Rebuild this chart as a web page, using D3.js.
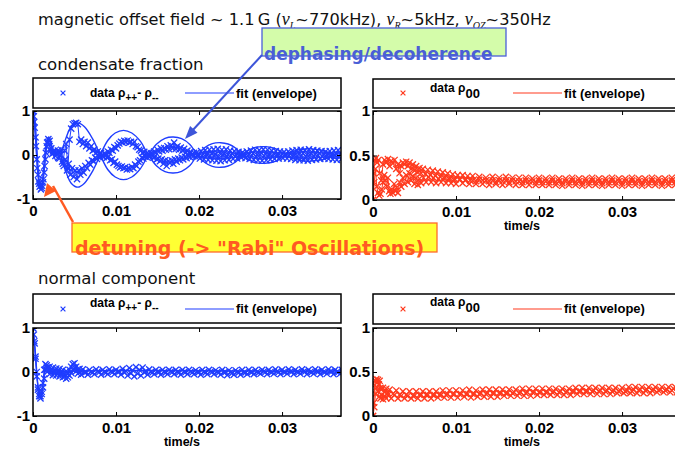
<!DOCTYPE html>
<html>
<head>
<meta charset="utf-8">
<script src="https://cdn.jsdelivr.net/npm/d3@7"></script>
<style>
  body { margin: 0; background: #fff; }
  svg { display: block; }
</style>
</head>
<body>
<svg id="chart" width="675" height="454"></svg>
<script>
// ---- axis ticks (time in ms, labelled in seconds) ----
const timeTicks = [0, 10, 20, 30];
const timeTickLabels = ["0", "0.01", "0.02", "0.03"];
const diffTicks = [-1, 0, 1];
const diffTickLabels = ["-1", "0", "1"];
const popTicks = [0, 0.5, 1];
const popTickLabels = ["0", "0.5", "1"];

// ---- condensate fraction: rho++ - rho-- (two interleaved runs), [t ms, value] ----
const condDiffA = [[0,1],[0.1,0.88],[0.2,0.62],[0.35,0.2],[0.5,-0.3],[0.65,-0.6],[0.8,-0.72],[0.95,-0.78],[1.1,-0.7],[1.25,-0.55],[1.4,-0.25],[1.55,0.05],[1.7,0.28],[1.85,0.36],[2.0,0.32],[2.2,0.15],[2.4,0.08],[2.6,0.1],[2.8,0.05],[3.0,0.1],[3.2,0.06],[3.4,0.12],[3.6,-0.2],[3.8,0.1],[4.0,0.25],[4.2,-0.3],[4.4,0.35],[4.6,0.6],[4.8,0.7],[5.0,0.72],[5.2,0.73],[5.4,0.7],[5.6,0.3],[5.8,0.35],[6.0,0.25],[6.2,0.3],[6.4,0.2],[6.6,0.28],[6.8,0.15],[7.0,0.2],[7.2,0.1],[7.4,0.12],[7.6,0.05],[7.8,0.08],[8.0,0.02],[8.2,0.05],[8.4,-0.02],[8.6,0.04],[8.8,0.0],[9.0,0.08],[9.2,0.05],[9.4,0.12],[9.6,0.1],[9.8,0.18],[10.0,0.15],[10.2,0.22],[10.4,0.26],[10.6,0.3],[10.8,0.28],[11.0,0.32],[11.2,0.3],[11.4,0.33],[11.6,0.28],[11.8,0.3],[12.0,0.25],[12.2,0.3],[12.4,0.2],[12.6,0.18],[12.8,0.12],[13.0,0.1],[13.2,0.05],[13.4,0.07],[13.6,0.02],[13.8,0.05],[14.0,-0.02],[14.2,0.04],[14.4,0.0],[14.6,0.08],[14.8,0.05],[15.0,0.12],[15.2,0.08],[15.4,0.15],[15.6,0.1],[15.8,0.16],[16.0,0.12],[16.2,0.2],[16.4,0.13],[16.6,0.22],[16.8,0.15],[17.0,0.28],[17.2,0.14],[17.4,0.2],[17.6,0.12],[17.8,0.17],[18.0,0.1],[18.2,0.14],[18.4,0.06],[18.6,0.1],[18.8,0.04],[19.0,0.07],[19.2,0.02],[19.4,0.05],[19.75,0.06],[20.0,-0.01],[20.25,0.09],[20.5,0.02],[20.75,0.11],[21.0,0.0],[21.25,0.12],[21.5,0.03],[21.75,0.13],[22.0,0.01],[22.25,0.14],[22.5,0.04],[22.75,0.12],[23.0,0.02],[23.25,0.13],[23.5,0.0],[23.75,0.1],[24.0,0.03],[24.25,0.09],[24.5,-0.01],[24.75,0.07],[25.0,0.02],[25.25,0.06],[25.5,-0.02],[25.75,0.08],[26.0,0.01],[26.25,0.1],[26.5,0.03],[26.75,0.12],[27.0,0.0],[27.25,0.11],[27.5,0.04],[27.75,0.13],[28.0,0.02],[28.25,0.12],[28.5,0.0],[28.75,0.1],[29.0,0.03],[29.25,0.09],[29.5,-0.01],[29.75,0.08],[30.0,0.02],[30.25,0.07],[30.5,0.0],[30.75,0.08],[31.0,0.03],[31.25,0.1],[31.5,-0.01],[31.75,0.11],[32.0,0.02],[32.25,0.12],[32.5,0.04],[32.75,0.11],[33.0,0.0],[33.25,0.13],[33.5,0.03],[33.75,0.11],[34.0,0.01],[34.25,0.1],[34.5,0.04],[34.75,0.09],[35.0,0.0],[35.25,0.08],[35.5,0.02],[35.75,0.09],[36.0,-0.01],[36.25,0.1],[36.5,0.03],[36.75,0.11],[37.0,0.02]];
const condDiffB = [[0,1],[0.15,0.75],[0.3,0.4],[0.45,-0.1],[0.6,-0.45],[0.75,-0.65],[0.9,-0.7],[1.05,-0.75],[1.2,-0.62],[1.35,-0.4],[1.5,-0.1],[1.65,0.2],[1.8,0.3],[1.95,0.25],[2.1,0.1],[2.3,0.02],[2.5,0.05],[2.7,-0.02],[2.9,0.04],[3.1,-0.05],[3.3,0],[3.5,-0.15],[3.7,-0.25],[3.9,-0.1],[4.1,-0.35],[4.3,-0.2],[4.5,-0.45],[4.7,-0.3],[4.9,-0.5],[5.1,-0.35],[5.3,-0.55],[5.5,-0.35],[5.7,-0.45],[5.9,-0.3],[6.1,-0.4],[6.3,-0.25],[6.5,-0.3],[6.7,-0.18],[6.9,-0.22],[7.1,-0.12],[7.3,-0.14],[7.5,-0.06],[7.7,-0.09],[7.9,-0.03],[8.1,-0.06],[8.3,0],[8.5,-0.05],[8.7,0.02],[8.9,-0.06],[9.1,-0.04],[9.3,-0.12],[9.5,-0.1],[9.7,-0.18],[9.9,-0.15],[10.1,-0.22],[10.3,-0.25],[10.5,-0.28],[10.7,-0.26],[10.9,-0.3],[11.1,-0.28],[11.3,-0.33],[11.5,-0.3],[11.7,-0.32],[11.9,-0.27],[12.1,-0.3],[12.3,-0.22],[12.5,-0.25],[12.7,-0.15],[12.9,-0.12],[13.1,-0.06],[13.3,-0.08],[13.5,-0.03],[13.7,-0.05],[13.9,0.01],[14.1,-0.03],[14.3,0.02],[14.5,-0.06],[14.7,-0.04],[14.9,-0.1],[15.1,-0.08],[15.3,-0.14],[15.5,-0.1],[15.7,-0.2],[15.9,-0.12],[16.1,-0.25],[16.3,-0.14],[16.5,-0.18],[16.7,-0.12],[16.9,-0.2],[17.1,-0.1],[17.3,-0.15],[17.5,-0.08],[17.7,-0.12],[17.9,-0.06],[18.1,-0.1],[18.3,-0.04],[18.5,-0.07],[18.7,-0.02],[18.9,-0.05],[19.1,0],[19.3,-0.03],[19.6,-0.04],[19.85,0.01],[20.1,-0.08],[20.35,-0.01],[20.6,-0.1],[20.85,0.02],[21.1,-0.11],[21.35,-0.02],[21.6,-0.12],[21.85,0.0],[22.1,-0.13],[22.35,-0.03],[22.6,-0.14],[22.85,0.01],[23.1,-0.12],[23.35,-0.02],[23.6,-0.11],[23.85,0.0],[24.1,-0.09],[24.35,-0.03],[24.6,-0.08],[24.85,0.01],[25.1,-0.06],[25.35,0.02],[25.6,-0.07],[25.85,-0.01],[26.1,-0.09],[26.35,0.0],[26.6,-0.11],[26.85,-0.03],[27.1,-0.12],[27.35,0.01],[27.6,-0.13],[27.85,-0.02],[28.1,-0.12],[28.35,0.0],[28.6,-0.1],[28.85,-0.03],[29.1,-0.09],[29.35,0.01],[29.6,-0.08],[29.85,-0.02],[30.1,-0.07],[30.35,0.01],[30.6,-0.08],[30.85,-0.01],[31.1,-0.09],[31.35,0.02],[31.6,-0.11],[31.85,-0.02],[32.1,-0.12],[32.35,0.0],[32.6,-0.12],[32.85,-0.03],[33.1,-0.13],[33.35,0.01],[33.6,-0.11],[33.85,-0.02],[34.1,-0.1],[34.35,0.0],[34.6,-0.09],[34.85,-0.03],[35.1,-0.08],[35.35,0.01],[35.6,-0.09],[35.85,-0.02],[36.1,-0.1],[36.35,0.0],[36.6,-0.11],[36.85,-0.02],[37.1,-0.1]];
// beating envelope fit and its mirror
const condFitA = [[0,1],[0.2,0.85],[0.45,0.2],[0.7,-0.5],[0.9,-0.75],[1.1,-0.62],[1.4,-0.05],[1.65,0.3],[1.9,0.41],[2.15,0.3],[2.5,0.0],[2.8,-0.14],[3.05,-0.1],[3.3,0],[4.0,0.4],[4.6,0.64],[5.4,0.73],[6.2,0.64],[7.2,0.36],[8.1,0],[9.0,-0.33],[9.9,-0.5],[10.9,-0.56],[11.9,-0.5],[12.9,-0.32],[13.9,0],[14.9,0.25],[15.9,0.38],[16.9,0.41],[17.9,0.37],[18.9,0.24],[19.8,0],[20.7,-0.17],[21.6,-0.26],[22.6,-0.28],[23.5,-0.25],[24.4,-0.16],[25.2,0],[26.1,0.12],[26.9,0.18],[27.8,0.19],[28.7,0.17],[29.6,0.11],[30.4,0],[31.4,-0.09],[32.4,-0.13],[33.4,-0.14],[34.4,-0.12],[35.3,-0.08],[36.2,0],[37.2,0.07]];
const condFitB = [[2.5,0.0],[2.8,0.14],[3.05,0.1],[3.3,0],[4.0,-0.4],[4.6,-0.64],[5.4,-0.73],[6.2,-0.64],[7.2,-0.36],[8.1,0],[9.0,0.33],[9.9,0.5],[10.9,0.56],[11.9,0.5],[12.9,0.32],[13.9,0],[14.9,-0.25],[15.9,-0.38],[16.9,-0.41],[17.9,-0.37],[18.9,-0.24],[19.8,0],[20.7,0.17],[21.6,0.26],[22.6,0.28],[23.5,0.25],[24.4,0.16],[25.2,0],[26.1,-0.12],[26.9,-0.18],[27.8,-0.19],[28.7,-0.17],[29.6,-0.11],[30.4,0],[31.4,0.09],[32.4,0.13],[33.4,0.14],[34.4,0.12],[35.3,0.08],[36.2,0],[37.2,-0.07]];

// ---- condensate fraction: rho00 ----
const condPopA = [[0,0],[0.1,0.3],[0.2,0.45],[0.35,0.47],[0.5,0.42],[0.65,0.45],[0.8,0.3],[1.0,0.22],[1.2,0.4],[1.4,0.45],[1.6,0.42],[1.8,0.46],[2.0,0.38],[2.2,0.44],[2.4,0.41],[2.6,0.45],[2.8,0.35],[3.0,0.4],[3.2,0.3],[3.4,0.38],[3.6,0.42],[3.8,0.4],[4.0,0.43],[4.2,0.38],[4.4,0.42],[4.6,0.35],[4.8,0.4],[5.0,0.33],[5.2,0.38],[5.4,0.31],[5.6,0.36],[5.8,0.3],[6.0,0.35],[6.3,0.29],[6.6,0.34],[6.9,0.28],[7.2,0.33],[7.5,0.27],[7.8,0.32],[8.1,0.26],[8.4,0.31],[8.7,0.25],[9.0,0.3],[9.3,0.24],[9.6,0.29],[9.9,0.23],[10.2,0.28],[10.5,0.23],[10.8,0.28],[11.1,0.22],[11.4,0.27],[11.7,0.22],[12.0,0.27],[12.4,0.21],[12.8,0.26],[13.2,0.22],[13.6,0.25],[14.0,0.21],[14.4,0.26],[14.8,0.2],[15.2,0.25],[15.6,0.21],[16.0,0.26],[16.4,0.2],[16.8,0.25],[17.2,0.21],[17.6,0.25],[18.0,0.2],[18.4,0.25],[18.8,0.21],[19.2,0.24],[19.6,0.2],[20.0,0.25],[20.4,0.2],[20.8,0.24],[21.2,0.2],[21.6,0.25],[22.0,0.2],[22.4,0.24],[22.8,0.19],[23.2,0.24],[23.6,0.2],[24.0,0.25],[24.4,0.2],[24.8,0.24],[25.2,0.19],[25.6,0.24],[26.0,0.2],[26.4,0.25],[26.8,0.2],[27.2,0.24],[27.6,0.19],[28.0,0.24],[28.4,0.2],[28.8,0.25],[29.2,0.2],[29.6,0.24],[30.0,0.19],[30.4,0.24],[30.8,0.2],[31.2,0.25],[31.6,0.2],[32.0,0.24],[32.4,0.19],[32.8,0.24],[33.2,0.2],[33.6,0.25],[34.0,0.2],[34.4,0.24],[34.8,0.19],[35.2,0.24],[35.6,0.2],[36.0,0.25],[36.4,0.2],[36.8,0.24],[37.2,0.2]];
const condPopB = [[0,0],[0.15,0.2],[0.3,0.35],[0.45,0.15],[0.6,0.08],[0.75,0.05],[0.9,0.07],[1.05,0.12],[1.2,0.2],[1.35,0.28],[1.5,0.22],[1.65,0.15],[1.8,0.25],[1.95,0.1],[2.1,0.07],[2.25,0.12],[2.4,0.08],[2.55,0.18],[2.7,0.1],[2.85,0.14],[3.0,0.08],[3.2,0.2],[3.4,0.15],[3.6,0.25],[3.8,0.18],[4.0,0.28],[4.2,0.2],[4.4,0.3],[4.6,0.22],[4.8,0.27],[5.0,0.18],[5.2,0.25],[5.4,0.17],[5.6,0.24],[5.8,0.19],[6.1,0.25],[6.4,0.2],[6.7,0.26],[7.0,0.2],[7.3,0.25],[7.6,0.19],[7.9,0.24],[8.2,0.2],[8.5,0.25],[8.8,0.19],[9.1,0.24],[9.4,0.19],[9.7,0.23],[10.0,0.18],[10.4,0.23],[10.8,0.19],[11.2,0.23],[11.6,0.18],[12.0,0.22],[12.4,0.18],[12.8,0.23],[13.2,0.18],[13.6,0.22],[14.0,0.17],[14.4,0.22],[14.8,0.18],[15.2,0.22],[15.6,0.17],[16.0,0.22],[16.4,0.18],[16.8,0.22],[17.2,0.17],[17.6,0.21],[18.0,0.17],[18.4,0.22],[18.8,0.17],[19.2,0.21],[19.6,0.17],[20.0,0.22],[20.4,0.17],[20.8,0.21],[21.2,0.17],[21.6,0.22],[22.0,0.17],[22.4,0.21],[22.8,0.16],[23.2,0.21],[23.6,0.17],[24.0,0.22],[24.4,0.17],[24.8,0.21],[25.2,0.16],[25.6,0.21],[26.0,0.17],[26.4,0.22],[26.8,0.17],[27.2,0.21],[27.6,0.16],[28.0,0.21],[28.4,0.17],[28.8,0.22],[29.2,0.17],[29.6,0.21],[30.0,0.16],[30.4,0.21],[30.8,0.17],[31.2,0.22],[31.6,0.17],[32.0,0.21],[32.4,0.16],[32.8,0.21],[33.2,0.17],[33.6,0.22],[34.0,0.17],[34.4,0.21],[34.8,0.16],[35.2,0.21],[35.6,0.17],[36.0,0.22],[36.4,0.17],[36.8,0.21],[37.2,0.17]];

// ---- normal component: rho++ - rho-- ----
const normDiffA = [[0,1],[0.1,0.85],[0.2,0.65],[0.3,0.35],[0.45,0],[0.6,-0.35],[0.75,-0.5],[0.9,-0.55],[1.05,-0.45],[1.2,-0.25],[1.35,0.05],[1.5,0.18],[1.65,0.15],[1.8,0.1],[2.0,0.12],[2.2,0.05],[2.4,0.1],[2.6,0.02],[2.8,0.08],[3.0,0],[3.2,0.07],[3.4,-0.02],[3.6,0.05],[3.8,-0.05],[4.0,0.02],[4.2,-0.05],[4.4,0.05],[4.6,0.12],[4.8,0.18],[5.0,0.2],[5.2,0.12],[5.4,0.05],[5.6,0.07],[5.8,0.01],[6.0,0.06],[6.4,0.0],[6.8,0.05],[7.2,-0.01],[7.6,0.06],[8.0,0.0],[8.4,0.05],[8.8,-0.01],[9.2,0.06],[9.6,0.0],[10.0,0.05],[10.4,0.01],[10.8,0.07],[11.2,0.02],[11.6,0.09],[12.0,0.04],[12.4,0.11],[12.8,0.05],[13.2,0.1],[13.6,0.02],[14.0,0.06],[14.4,-0.01],[14.8,0.05],[15.2,0.0],[15.6,0.05],[16.0,-0.01],[16.4,0.05],[16.8,0.0],[17.2,0.05],[17.6,-0.01],[18.0,0.05],[18.4,0.0],[18.8,0.05],[19.2,-0.01],[19.6,0.04],[20.0,0.0],[20.4,0.05],[20.8,-0.01],[21.2,0.05],[21.6,0.0],[22.0,0.04],[22.4,-0.01],[22.8,0.05],[23.2,0.0],[23.6,0.04],[24.0,-0.02],[24.4,0.04],[24.8,-0.01],[25.2,0.05],[25.6,-0.01],[26.0,0.05],[26.4,0.0],[26.8,0.05],[27.2,-0.01],[27.6,0.05],[28.0,0.0],[28.4,0.05],[28.8,0.0],[29.2,0.06],[29.6,0.0],[30.0,0.05],[30.4,0.0],[30.8,0.06],[31.2,0.01],[31.6,0.05],[32.0,0.0],[32.4,0.06],[32.8,0.01],[33.2,0.05],[33.6,0.0],[34.0,0.06],[34.4,0.01],[34.8,0.05],[35.2,0.0],[35.6,0.06],[36.0,0.01],[36.4,0.05],[36.8,0.0],[37.2,0.05]];
const normDiffB = [[0,1],[0.15,0.7],[0.3,0.3],[0.45,-0.1],[0.6,-0.4],[0.75,-0.55],[0.9,-0.6],[1.05,-0.5],[1.2,-0.35],[1.35,-0.15],[1.5,0.05],[1.65,0.1],[1.8,0.02],[2.0,-0.05],[2.2,0.03],[2.4,-0.07],[2.6,0],[2.8,-0.08],[3.0,-0.03],[3.2,-0.1],[3.4,-0.05],[3.6,-0.12],[3.8,-0.1],[4.0,-0.15],[4.2,-0.12],[4.4,-0.08],[4.6,-0.02],[4.8,0.05],[5.0,0.1],[5.2,0.02],[5.4,-0.04],[5.6,0],[5.8,-0.06],[6.2,-0.01],[6.6,-0.06],[7.0,0],[7.4,-0.05],[7.8,0.01],[8.2,-0.06],[8.6,0],[9.0,-0.05],[9.4,0.01],[9.8,-0.05],[10.2,0],[10.6,-0.06],[11.0,-0.01],[11.4,-0.08],[11.8,-0.03],[12.2,-0.1],[12.6,-0.04],[13.0,-0.08],[13.4,-0.01],[13.8,-0.06],[14.2,0],[14.6,-0.05],[15.0,0],[15.4,-0.06],[15.8,0],[16.2,-0.05],[16.6,0.01],[17.0,-0.05],[17.4,0],[17.8,-0.06],[18.2,0],[18.6,-0.05],[19.0,0.01],[19.4,-0.05],[19.8,0],[20.2,-0.06],[20.6,0],[21.0,-0.05],[21.4,0.01],[21.8,-0.05],[22.2,0],[22.6,-0.06],[23.0,-0.01],[23.4,-0.07],[23.8,-0.01],[24.2,-0.06],[24.6,0],[25.0,-0.06],[25.4,-0.01],[25.8,-0.05],[26.2,0],[26.6,-0.05],[27.0,0],[27.4,-0.04],[27.8,0.01],[28.2,-0.05],[28.6,0],[29.0,-0.04],[29.4,0.01],[29.8,-0.05],[30.2,0],[30.6,-0.04],[31.0,0.01],[31.4,-0.05],[31.8,0],[32.2,-0.04],[32.6,0.01],[33.0,-0.05],[33.4,0],[33.8,-0.04],[34.2,0.01],[34.6,-0.05],[35.0,0],[35.4,-0.04],[35.8,0.01],[36.2,-0.05],[36.6,0],[37.0,-0.04]];
const normFit = [[0,1],[0.3,0.4],[0.6,-0.3],[0.85,-0.5],[1.1,-0.4],[1.4,0.0],[1.7,0.12],[2.1,0.05],[2.6,-0.03],[3.2,0],[37.2,0]];

// ---- normal component: rho00 ----
const normPopA = [[0,0],[0.1,0.15],[0.2,0.35],[0.3,0.4],[0.4,0.42],[0.5,0.38],[0.6,0.41],[0.7,0.36],[0.8,0.4],[0.9,0.32],[1.0,0.3],[1.2,0.32],[1.4,0.27],[1.6,0.31],[1.8,0.26],[2.0,0.3],[2.4,0.25],[2.8,0.29],[3.2,0.24],[3.6,0.28],[4.0,0.24],[4.4,0.28],[4.8,0.23],[5.2,0.28],[5.6,0.24],[6.0,0.28],[6.4,0.24],[6.8,0.28],[7.2,0.24],[7.6,0.28],[8.0,0.24],[8.4,0.29],[8.8,0.24],[9.2,0.29],[9.6,0.25],[10.0,0.29],[10.4,0.25],[10.8,0.29],[11.2,0.25],[11.6,0.3],[12.0,0.25],[12.4,0.29],[12.8,0.25],[13.2,0.3],[13.6,0.25],[14.0,0.3],[14.4,0.26],[14.8,0.3],[15.2,0.26],[15.6,0.3],[16.0,0.26],[16.4,0.3],[16.8,0.26],[17.2,0.3],[17.6,0.26],[18.0,0.31],[18.4,0.26],[18.8,0.31],[19.2,0.27],[19.6,0.31],[20.0,0.27],[20.4,0.31],[20.8,0.27],[21.2,0.31],[21.6,0.27],[22.0,0.31],[22.4,0.27],[22.8,0.31],[23.2,0.27],[23.6,0.31],[24.0,0.28],[24.4,0.32],[24.8,0.28],[25.2,0.32],[25.6,0.28],[26.0,0.32],[26.4,0.28],[26.8,0.32],[27.2,0.28],[27.6,0.32],[28.0,0.28],[28.4,0.32],[28.8,0.28],[29.2,0.32],[29.6,0.28],[30.0,0.32],[30.4,0.28],[30.8,0.33],[31.2,0.28],[31.6,0.33],[32.0,0.29],[32.4,0.33],[32.8,0.29],[33.2,0.33],[33.6,0.29],[34.0,0.33],[34.4,0.29],[34.8,0.33],[35.2,0.29],[35.6,0.33],[36.0,0.29],[36.4,0.33],[36.8,0.29],[37.2,0.33]];
const normPopB = [[0,0],[0.15,0.1],[0.3,0.25],[0.45,0.33],[0.6,0.28],[0.75,0.22],[0.9,0.2],[1.05,0.24],[1.2,0.19],[1.4,0.23],[1.6,0.2],[1.8,0.24],[2.2,0.2],[2.6,0.24],[3.0,0.2],[3.4,0.23],[3.8,0.2],[4.2,0.23],[4.6,0.2],[5.0,0.23],[5.4,0.2],[5.8,0.24],[6.2,0.2],[6.6,0.24],[7.0,0.2],[7.4,0.24],[7.8,0.21],[8.2,0.24],[8.6,0.21],[9.0,0.25],[9.4,0.21],[9.8,0.25],[10.2,0.21],[10.6,0.25],[11.0,0.22],[11.4,0.25],[11.8,0.21],[12.2,0.25],[12.6,0.22],[13.0,0.26],[13.4,0.22],[13.8,0.26],[14.2,0.22],[14.6,0.26],[15.0,0.22],[15.4,0.26],[15.8,0.23],[16.2,0.26],[16.6,0.23],[17.0,0.27],[17.4,0.23],[17.8,0.27],[18.2,0.23],[18.6,0.27],[19.0,0.23],[19.4,0.27],[19.8,0.24],[20.2,0.27],[20.6,0.24],[21.0,0.27],[21.4,0.24],[21.8,0.28],[22.2,0.24],[22.6,0.28],[23.0,0.24],[23.4,0.28],[23.8,0.24],[24.2,0.28],[24.6,0.25],[25.0,0.28],[25.4,0.25],[25.8,0.28],[26.2,0.25],[26.6,0.29],[27.0,0.25],[27.4,0.29],[27.8,0.25],[28.2,0.29],[28.6,0.25],[29.0,0.29],[29.4,0.26],[29.8,0.29],[30.2,0.26],[30.6,0.29],[31.0,0.26],[31.4,0.3],[31.8,0.26],[32.2,0.3],[32.6,0.26],[33.0,0.3],[33.4,0.26],[33.8,0.3],[34.2,0.27],[34.6,0.3],[35.0,0.27],[35.4,0.3],[35.8,0.27],[36.2,0.31],[36.6,0.27],[37.0,0.31]];

// ---- drawing ----
const BLUE = "#1f3dff";
const RED = "#ff3a1e";
const TICK_FONT = "'Liberation Sans', Arial, sans-serif";
const TEXT_FONT = "'DejaVu Sans', Verdana, sans-serif";
const PLOT_W = 308;
const T_MAX = 37.1;

const svg = d3.select("#chart");

// Heading and subplot group titles
const title = svg.append("text").attr("x", 38).attr("y", 25)
  .attr("font-family", TEXT_FONT).attr("font-size", 16.2).attr("fill", "#111");
function nu(sub) {
  title.append("tspan").attr("font-family", "'Liberation Serif', 'Times New Roman', serif")
    .attr("font-style", "italic").attr("font-size", 18).text("\u03bd");
  title.append("tspan").attr("font-family", "'Liberation Serif', 'Times New Roman', serif")
    .attr("font-style", "italic").attr("font-size", 10).attr("dy", 4).text(sub);
}
title.append("tspan").text("magnetic offset field ~ 1.1\u2009G (");
nu("L");
title.append("tspan").attr("dy", -4).text("~770kHz), ");
nu("R");
title.append("tspan").attr("dy", -4).text("~5kHz, ");
nu("QZ");
title.append("tspan").attr("dy", -4).text("~350Hz");

svg.append("text").attr("x", 38).attr("y", 70).attr("font-family", TEXT_FONT)
  .attr("font-size", 16.6).attr("fill", "#111").text("condensate fraction");
svg.append("text").attr("x", 38).attr("y", 284).attr("font-family", TEXT_FONT)
  .attr("font-size", 16.6).attr("fill", "#111").text("normal component");

const panels = [
  { id: "cd", left: 33, top: 111, bottom: 199, legTop: 78, legBot: 108, dom: [-1, 1],
    ticks: diffTicks, labels: diffTickLabels, color: BLUE, traces: [condDiffA, condDiffB],
    fits: [condFitA, condFitB], legend: "diff", dataBase: 97, fitBase: 98, markY: 93, xlabel: false },
  { id: "cp", left: 373, top: 111, bottom: 200, legTop: 79, legBot: 108, dom: [0, 1],
    ticks: popTicks, labels: popTickLabels, color: RED, traces: [condPopA, condPopB],
    fits: [], legend: "pop", dataBase: 92, fitBase: 98, markY: 93, xlabel: true },
  { id: "nd", left: 33, top: 328, bottom: 416, legTop: 294, legBot: 323, dom: [-1, 1],
    ticks: diffTicks, labels: diffTickLabels, color: BLUE, traces: [normDiffA, normDiffB],
    fits: [normFit], legend: "diff", dataBase: 307, fitBase: 313, markY: 309, xlabel: true },
  { id: "np", left: 373, top: 328, bottom: 416, legTop: 294, legBot: 324, dom: [0, 1],
    ticks: popTicks, labels: popTickLabels, color: RED, traces: [normPopA, normPopB],
    fits: [], legend: "pop", dataBase: 306, fitBase: 313, markY: 309, xlabel: true }
];

const crossPath = s => `M${-s},${-s}L${s},${s}M${-s},${s}L${s},${-s}`;

panels.forEach(p => {
  const x = d3.scaleLinear().domain([0, T_MAX]).range([p.left, p.left + PLOT_W]);
  const y = d3.scaleLinear().domain(p.dom).range([p.bottom, p.top]);
  const g = svg.append("g");

  // white backdrop so the right-hand panel sits over its neighbour
  if (p.left > 100) {
    g.append("rect").attr("x", p.left - 30).attr("y", p.legTop - 2)
      .attr("width", PLOT_W + 34).attr("height", p.bottom - p.legTop + 40).attr("fill", "#fff");
  }

  svg.append("clipPath").attr("id", "clip-" + p.id).append("rect")
    .attr("x", p.left).attr("y", p.top).attr("width", PLOT_W).attr("height", p.bottom - p.top);
  const plot = g.append("g").attr("clip-path", `url(#clip-${p.id})`);

  const line = d3.line().x(d => x(d[0])).y(d => y(d[1]));
  const smooth = d3.line().curve(d3.curveCatmullRom.alpha(0.5)).x(d => x(d[0])).y(d => y(d[1]));

  p.fits.forEach(f => plot.append("path").attr("d", smooth(f)).attr("fill", "none")
    .attr("stroke", p.color).attr("stroke-width", 1.4));

  p.traces.forEach(tr => {
    plot.append("path").attr("d", line(tr)).attr("fill", "none")
      .attr("stroke", p.color).attr("stroke-width", 1);
    plot.selectAll(null).data(tr).join("path")
      .attr("transform", d => `translate(${x(d[0])},${y(d[1])})`)
      .attr("d", crossPath(3.1)).attr("stroke", p.color).attr("stroke-width", 1.3).attr("fill", "none");
  });

  // axes with inward ticks
  const styleAxis = a => {
    a.select(".domain").remove();
    a.selectAll("line").attr("stroke", "#000").attr("stroke-width", 1);
    a.selectAll("text").attr("font-family", TICK_FONT).attr("font-weight", "bold")
      .attr("font-size", 15).attr("fill", "#000");
  };
  g.append("g").attr("transform", `translate(0,${p.bottom})`)
    .call(d3.axisBottom(x).tickValues(timeTicks).tickSize(-4).tickPadding(6)
      .tickFormat((d, i) => timeTickLabels[i])).call(styleAxis);
  g.append("g").attr("transform", `translate(0,${p.top})`)
    .call(d3.axisTop(x).tickValues(timeTicks).tickSize(-4).tickFormat("")).call(styleAxis);
  g.append("g").attr("transform", `translate(${p.left},0)`)
    .call(d3.axisLeft(y).tickValues(p.ticks).tickSize(-4).tickPadding(3)
      .tickFormat((d, i) => p.labels[i])).call(styleAxis);
  g.append("g").attr("transform", `translate(${p.left + PLOT_W},0)`)
    .call(d3.axisRight(y).tickValues(p.ticks).tickSize(-4).tickFormat("")).call(styleAxis);

  g.append("rect").attr("x", p.left).attr("y", p.top).attr("width", PLOT_W)
    .attr("height", p.bottom - p.top).attr("fill", "none").attr("stroke", "#000").attr("stroke-width", 1.5);

  if (p.xlabel) {
    g.append("text").attr("x", p.left + 149).attr("y", p.bottom + 30).attr("text-anchor", "middle")
      .attr("font-family", TICK_FONT).attr("font-weight", "bold").attr("font-size", 12.5).text("time/s");
  }

  // legend
  const lg = g.append("g");
  lg.append("rect").attr("x", p.left).attr("y", p.legTop).attr("width", PLOT_W)
    .attr("height", p.legBot - p.legTop).attr("fill", "#fff").attr("stroke", "#000").attr("stroke-width", 1.5);
  lg.append("path").attr("transform", `translate(${p.left + 30},${p.markY})`)
    .attr("d", crossPath(2.4)).attr("stroke", p.color).attr("stroke-width", 1.2);
  const dt = lg.append("text").attr("x", p.left + 57).attr("y", p.dataBase)
    .attr("font-family", TICK_FONT).attr("font-weight", "bold").attr("font-size", 12).attr("fill", "#000");
  if (p.legend === "diff") {
    dt.append("tspan").text("data \u03c1");
    dt.append("tspan").attr("font-size", 10).attr("dy", 4).text("++");
    dt.append("tspan").attr("dy", -4).text("- \u03c1");
    dt.append("tspan").attr("font-size", 10).attr("dy", 4).text("--");
  } else {
    dt.append("tspan").text("data \u03c1");
    dt.append("tspan").attr("font-size", 13).attr("dy", 6).text("00");
  }
  const lx0 = p.legend === "diff" ? p.left + 152 : p.left + 140;
  lg.append("line").attr("x1", lx0).attr("x2", lx0 + 49).attr("y1", p.markY).attr("y2", p.markY)
    .attr("stroke", p.color).attr("stroke-width", 1.2);
  lg.append("text").attr("x", lx0 + 51).attr("y", p.fitBase)
    .attr("font-family", TICK_FONT).attr("font-weight", "bold").attr("font-size", 13)
    .attr("fill", "#000").text("fit (envelope)");
});

// ---- annotations ----
const ann = svg.append("g");
// dephasing / decoherence
ann.append("rect").attr("x", 262).attr("y", 28).attr("width", 244).attr("height", 28)
  .attr("fill", "#d4fcaa").attr("stroke", "#4a5fd9").attr("stroke-width", 1.3);
ann.append("line").attr("x1", 262).attr("y1", 55).attr("x2", 192).attr("y2", 131)
  .attr("stroke", "#3d55d9").attr("stroke-width", 2);
ann.append("path").attr("d", "M185,139L197.5,132.8L190.1,126Z").attr("fill", "#3d55d9");
ann.append("text").attr("x", 264).attr("y", 60).attr("font-family", "'DejaVu Sans', Verdana, sans-serif")
  .attr("font-weight", "bold").attr("font-size", 17).attr("fill", "#4a5fd6").text("dephasing/decoherence");

// detuning
ann.append("rect").attr("x", 72).attr("y", 223).attr("width", 365).attr("height", 29)
  .attr("fill", "#ffff33").attr("stroke", "#ff6a2a").attr("stroke-width", 1.3);
ann.append("line").attr("x1", 73).attr("y1", 222).attr("x2", 53).attr("y2", 186)
  .attr("stroke", "#ff5a22").attr("stroke-width", 2.5);
ann.append("path").attr("d", "M44,197L47,183L56,191Z").attr("fill", "#ff5a22");
ann.append("text").attr("x", 75).attr("y", 255).attr("font-family", "'DejaVu Sans', Verdana, sans-serif")
  .attr("font-weight", "bold").attr("font-size", 19).attr("fill", "#ff5a22")
  .text("detuning (-> \"Rabi\" Oscillations)");
</script>
</body>
</html>
